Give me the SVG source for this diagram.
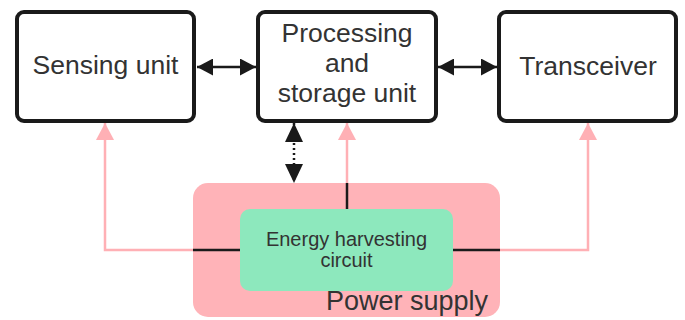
<svg xmlns="http://www.w3.org/2000/svg" width="685" height="320" viewBox="0 0 685 320">
<style>
.box{fill:#fff;stroke:#1a1a1a;stroke-width:4}
.t{font-family:"Liberation Sans",Arial,sans-serif;fill:#333;text-anchor:middle}
.blk{stroke:#1a1a1a;stroke-width:2.5;fill:none}
.pk{stroke:#ffb0b5;stroke-width:2.5;fill:none}
</style>
<defs>
<marker id="ab" viewBox="0 0 16 17" refX="16" refY="8.5" markerWidth="16" markerHeight="17" markerUnits="userSpaceOnUse" orient="auto-start-reverse"><path d="M0,0 L16,8.5 L0,17 z" fill="#1a1a1a"/></marker>
<marker id="ad" viewBox="0 0 19 18" refX="19" refY="9" markerWidth="19" markerHeight="18" markerUnits="userSpaceOnUse" orient="auto-start-reverse"><path d="M0,0 L19,9 L0,18 z" fill="#1a1a1a"/></marker>
<marker id="ap" viewBox="0 0 17 18" refX="17" refY="9" markerWidth="17" markerHeight="18" markerUnits="userSpaceOnUse" orient="auto"><path d="M0,0 L17,9 L0,18 z" fill="#ffb0b5"/></marker>
</defs>
<g id="power">
<rect x="193" y="183" width="307" height="134" rx="15" fill="#ffb3b8"/>
<text class="t" x="488" y="310" font-size="27" style="text-anchor:end">Power supply</text>
</g>
<g id="connectors">
<line class="blk" x1="197" y1="67" x2="256" y2="67" marker-start="url(#ab)" marker-end="url(#ab)"/>
<line class="blk" x1="438" y1="67" x2="497" y2="67" marker-start="url(#ab)" marker-end="url(#ab)"/>
<line class="blk" x1="294" y1="123" x2="294" y2="183" stroke-width="3" stroke-dasharray="2,3" marker-start="url(#ad)" marker-end="url(#ad)"/>
<polyline class="pk" points="193,250 105,250 105,123" marker-end="url(#ap)"/>
<line class="pk" x1="347" y1="183" x2="347" y2="123" marker-end="url(#ap)"/>
<polyline class="pk" points="500,250 588,250 588,123" marker-end="url(#ap)"/>
<line class="blk" x1="193" y1="250" x2="240" y2="250"/>
<line class="blk" x1="453" y1="250" x2="500" y2="250"/>
<line class="blk" x1="347" y1="183" x2="347" y2="209"/>
</g>
<g id="sensing">
<rect class="box" x="17" y="12" width="177" height="109" rx="7"/>
<text class="t" x="105.5" y="74" font-size="26.5">Sensing unit</text>
</g>
<g id="processing">
<rect class="box" x="258" y="12" width="178" height="109" rx="7"/>
<text class="t" x="347" y="42" font-size="26.5">Processing</text>
<text class="t" x="347" y="72" font-size="26.5">and</text>
<text class="t" x="347" y="102" font-size="26.5">storage unit</text>
</g>
<g id="transceiver">
<rect class="box" x="499" y="12" width="177" height="109" rx="7"/>
<text class="t" x="588" y="75" font-size="26.5">Transceiver</text>
</g>
<g id="harvest">
<rect x="240" y="209" width="213" height="82" rx="10" fill="#8de8bd"/>
<text class="t" x="346.5" y="246" font-size="20">Energy harvesting</text>
<text class="t" x="346.5" y="267" font-size="20">circuit</text>
</g>
</svg>
